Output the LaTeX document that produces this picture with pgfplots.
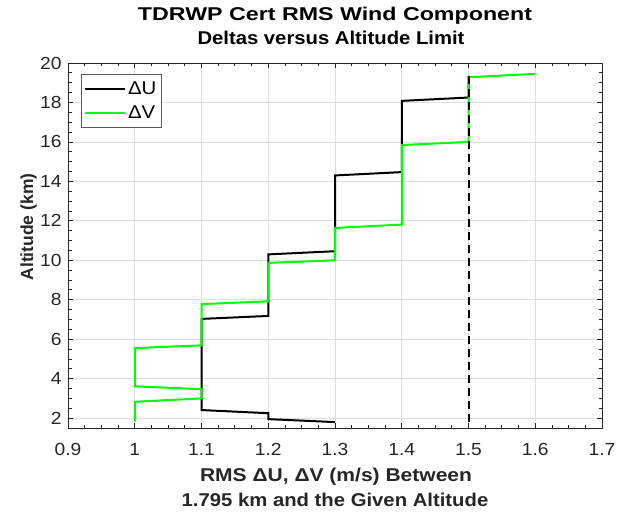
\documentclass[border=0pt]{standalone}
\usepackage{pgfplots}
\pgfplotsset{compat=1.18}
\usepackage{graphicx}
\usepackage{fontspec}
\setmainfont[FakeStretch=1.1]{Liberation Sans}
\newfontfamily\plainfont{Liberation Sans}
\definecolor{axgray}{RGB}{38,38,38}
\definecolor{gridgray}{RGB}{222,222,222}
\definecolor{lgreen}{RGB}{0,255,0}
\begin{document}
\begin{tikzpicture}[x=1pt,y=1pt]
\path[use as bounding box] (0,0) rectangle (628,515);
\begin{axis}[at={(68pt,87pt)}, anchor=south west, scale only axis,
  width=534pt, height=365pt,
  xmin=0.9, xmax=1.7, ymin=1.5, ymax=20,
  xtick={0.9,1.0,1.1,1.2,1.3,1.4,1.5,1.6,1.7},
  xticklabels={0.9,1,1.1,1.2,1.3,1.4,1.5,1.6,1.7},
  ytick={2,4,6,8,10,12,14,16,18,20},
  minor x tick num=3, minor y tick num=3,
  tick align=inside, xtick pos=both, ytick pos=both,
  grid=major, major grid style={gridgray, line width=0.8pt},
  axis line style={axgray, line width=0.8pt},
  tick style={axgray, line width=0.8pt},
  major tick length=5pt, minor tick length=3.5pt,
  ticklabel style={font=\fontsize{17.5}{17.5}\selectfont, text=axgray, inner sep=0pt},
  /pgf/number format/assume math mode=true,
  xticklabel style={anchor=base, yshift=-27pt},
  yticklabel style={anchor=east, xshift=-6.3pt},
  legend cell align=left,
  legend style={at={(0.0238,0.970)}, anchor=north west,
    draw={rgb,255:red,90;green,90;blue,90}, line width=0.6pt,
    font=\fontsize{18.5}{18.5}\selectfont, inner xsep=3pt, inner ysep=5.5pt,
    row sep=6pt},
  legend image code/.code={\draw[#1] (0pt,0pt) -- (40pt,0pt);},
]
\addplot[black, line width=2pt, line join=miter] coordinates {
(1.3,1.80) (1.2,1.95) (1.2,2.25) (1.1,2.41) (1.1,7.03) (1.2,7.18)
(1.2,10.30) (1.3,10.46) (1.3,14.30) (1.4,14.47) (1.4,18.08) (1.5,18.25)
(1.5,19.35)};
\addlegendentry{ΔU}
\addplot[lgreen, line width=2pt, line join=miter] coordinates {
(1.0,1.82) (1.0,2.83) (1.1,3.00) (1.1,3.47) (1.0,3.61) (1.0,5.55)
(1.1,5.69) (1.1,7.78) (1.2,7.92) (1.2,9.87) (1.3,10.00) (1.3,11.64)
(1.4,11.81) (1.4,15.84) (1.5,16.00) (1.5,19.28) (1.6,19.45)};
\addlegendentry{ΔV}
\addplot[black, line width=2pt, dash pattern=on 8pt off 5pt, forget plot] coordinates {
(1.5,1.80) (1.5,19.40)};
\end{axis}
\node[anchor=base, inner sep=0pt, font=\bfseries\fontsize{18.5}{18.5}\selectfont] at (335,494.3) {\resizebox{394pt}{\height}{TDRWP Cert RMS Wind Component}};
\node[anchor=base, inner sep=0pt, font=\bfseries\fontsize{18.5}{18.5}\selectfont] at (331,470) {\resizebox{267pt}{\height}{Deltas versus Altitude Limit}};
\node[anchor=base, inner sep=0pt, font=\bfseries\fontsize{18.5}{18.5}\selectfont, text=axgray] at (336,33.5) {\resizebox{272pt}{\height}{RMS ΔU, ΔV (m/s) Between}};
\node[anchor=base, inner sep=0pt, font=\bfseries\fontsize{18.5}{18.5}\selectfont, text=axgray] at (335,8.3) {\resizebox{306.6pt}{\height}{1.795 km and the Given Altitude}};
\node[anchor=base, inner sep=0pt, rotate=90, font=\plainfont\bfseries\fontsize{17.5}{17.5}\selectfont, text=axgray] at (33,288) {Altitude (km)};
\end{tikzpicture}
\end{document}
